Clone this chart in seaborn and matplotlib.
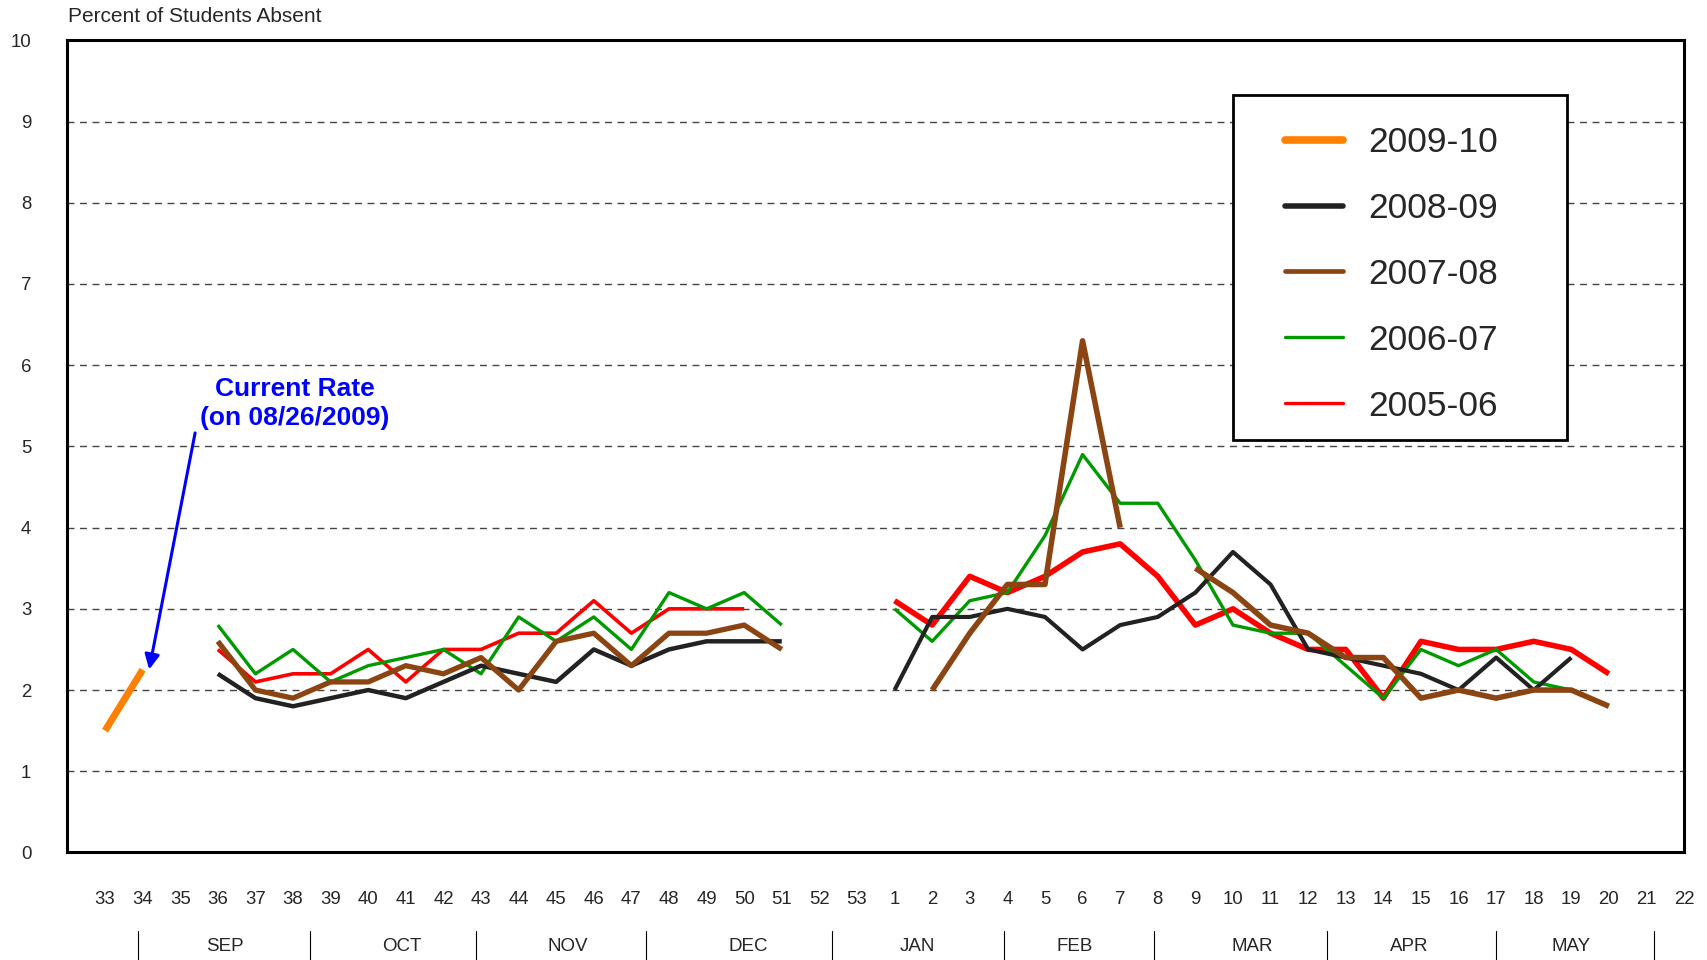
import matplotlib
matplotlib.use('Agg')
import matplotlib.pyplot as plt
from matplotlib.lines import Line2D
from matplotlib.patches import Rectangle
import numpy as np
import pandas as pd
import seaborn as sns

nan = np.nan

# week axis: 33..53 then 1..22 (positions 1..43)
week_labels = [str(w) for w in range(33, 54)] + [str(w) for w in range(1, 23)]
months = ['SEP', 'OCT', 'NOV', 'DEC', 'JAN', 'FEB', 'MAR', 'APR', 'MAY']
month_pos = [4.2, 8.9, 13.3, 18.1, 22.6, 26.8, 31.5, 35.7, 40.0]
month_sep = [1.87, 6.45, 10.86, 15.38, 20.33, 24.9, 28.9, 33.5, 38.0, 42.2]

seasons = ['2009-10', '2008-09', '2007-08', '2006-07', '2005-06']

# weeks 33-34
cur_weeks = ['33', '34']
cur_vals = [1.5, 2.25]

# fall = weeks 36..51, spring = weeks 1..20
black_fall = [2.2, 1.9, 1.8, 1.9, 2.0, 1.9, 2.1, 2.3, 2.2, 2.1, 2.5, 2.3, 2.5, 2.6, 2.6, 2.6]
black_spring = [2.0, 2.9, 2.9, 3.0, 2.9, 2.5, 2.8, 2.9, 3.2, 3.7, 3.3, 2.5, 2.4, 2.3, 2.2, 2.0, 2.4, 2.0, 2.4, nan]
brown_fall = [2.6, 2.0, 1.9, 2.1, 2.1, 2.3, 2.2, 2.4, 2.0, 2.6, 2.7, 2.3, 2.7, 2.7, 2.8, 2.5]
brown_spring = [nan, 2.0, 2.7, 3.3, 3.3, 6.3, 4.0, nan, 3.5, 3.2, 2.8, 2.7, 2.4, 2.4, 1.9, 2.0, 1.9, 2.0, 2.0, 1.8]
green_fall = [2.8, 2.2, 2.5, 2.1, 2.3, 2.4, 2.5, 2.2, 2.9, 2.6, 2.9, 2.5, 3.2, 3.0, 3.2, 2.8]
green_spring = [3.0, 2.6, 3.1, 3.2, 3.9, 4.9, 4.3, 4.3, 3.6, 2.8, 2.7, 2.7, 2.3, 1.9, 2.5, 2.3, 2.5, 2.1, 2.0, nan]
red_fall = [2.5, 2.1, 2.2, 2.2, 2.5, 2.1, 2.5, 2.5, 2.7, 2.7, 3.1, 2.7, 3.0, 3.0, 3.0, nan]
red_spring = [3.1, 2.8, 3.4, 3.2, 3.4, 3.7, 3.8, 3.4, 2.8, 3.0, 2.7, 2.5, 2.5, 1.9, 2.6, 2.5, 2.5, 2.6, 2.5, 2.2]

fall_weeks = [str(w) for w in range(36, 52)]
spring_weeks = [str(w) for w in range(1, 21)]

colors = {'2009-10': '#FF8000', '2008-09': '#222222', '2007-08': '#8B4513',
          '2006-07': '#009900', '2005-06': '#FF0000'}
blue = '#0000FF'

sns.set_style('white')
plt.rcParams['font.family'] = ['Liberation Sans', 'DejaVu Sans']

fig = plt.figure(figsize=(17.07, 9.6), dpi=100)
ax = fig.add_axes([0.0395, 0.112, 0.9471, 0.846])

pos_of = {w: i + 1 for i, w in enumerate(week_labels)}


def draw(weeks, vals, color, lw):
    df = pd.DataFrame({'pos': [pos_of[w] for w in weeks], 'val': vals})
    df['seg'] = df['val'].isna().cumsum()
    df = df.dropna()
    for _, seg in df.groupby('seg'):
        if len(seg) > 1:
            sns.lineplot(x=seg['pos'], y=seg['val'], ax=ax, color=color,
                         lw=lw, legend=False, solid_capstyle='butt')


draw(fall_weeks, red_fall, colors['2005-06'], 2.6)
draw(spring_weeks, red_spring, colors['2005-06'], 4.0)
draw(fall_weeks, green_fall, colors['2006-07'], 2.4)
draw(spring_weeks, green_spring, colors['2006-07'], 2.4)
draw(fall_weeks, black_fall, colors['2008-09'], 3.2)
draw(spring_weeks, black_spring, colors['2008-09'], 3.0)
draw(fall_weeks, brown_fall, colors['2007-08'], 3.8)
draw(spring_weeks, brown_spring, colors['2007-08'], 4.0)
draw(cur_weeks, cur_vals, colors['2009-10'], 5.0)

ax.set_xlim(0, 43)
ax.set_ylim(0, 10)
ax.set_xlabel('')
ax.set_ylabel('')
ax.set_xticks(range(0, 44))
ax.set_xticklabels([''] + week_labels, fontsize=13.4)
ax.set_yticks(range(0, 11))
ax.set_yticklabels([str(v) for v in range(0, 11)], fontsize=13.4)
ax.tick_params(axis='x', length=16, width=0.8, color='black', pad=12)
ax.tick_params(axis='y', length=0, pad=26)
for v in range(1, 10):
    ax.axhline(v, color='#444444', lw=1.0, ls=(0, (5, 4)), zorder=0)
for s in ax.spines.values():
    s.set_visible(True)
    s.set_color('black')
    s.set_linewidth(2.2)

xt = ax.get_xaxis_transform()
for x in month_sep:
    ax.plot([x, x], [-0.097, -0.132], transform=xt, color='black', lw=0.8, clip_on=False)
for x, m in zip(month_pos, months):
    ax.text(x, -0.1163, m, transform=xt, ha='center', va='center', fontsize=13.5)

fig.text(67.5 / 1707, 1 - 17 / 960, 'Percent of Students Absent', ha='left', va='center',
         fontsize=15)

ax.text(6.05, 5.53, 'Current Rate\n(on 08/26/2009)', ha='center', va='center',
        fontsize=19, fontweight='bold', color=blue, linespacing=1.28)
ax.annotate('', xy=(2.16, 2.22), xytext=(3.41, 5.2),
            arrowprops=dict(arrowstyle='-|>', color=blue, lw=2.2, mutation_scale=22))

# legend box
fig.patches.append(Rectangle((1233 / 1707, 1 - 440 / 960), 334 / 1707, 345.3 / 960,
                             transform=fig.transFigure, fill=True, facecolor='white',
                             edgecolor='black', lw=2, zorder=5))
widths = [5.5, 4.0, 3.4, 2.4, 2.4]
handles = [Line2D([], [], color=colors[s], lw=w) for s, w in zip(seasons, widths)]
leg = fig.legend(handles, seasons, loc='upper left', bbox_to_anchor=(1285 / 1707, 1 - 126 / 960),
                 frameon=False, fontsize=25.5, borderpad=0, borderaxespad=0,
                 handlelength=1.65, handletextpad=0.7, labelspacing=0.93)
leg.set_zorder(6)

fig.savefig('out.png', dpi=100)
